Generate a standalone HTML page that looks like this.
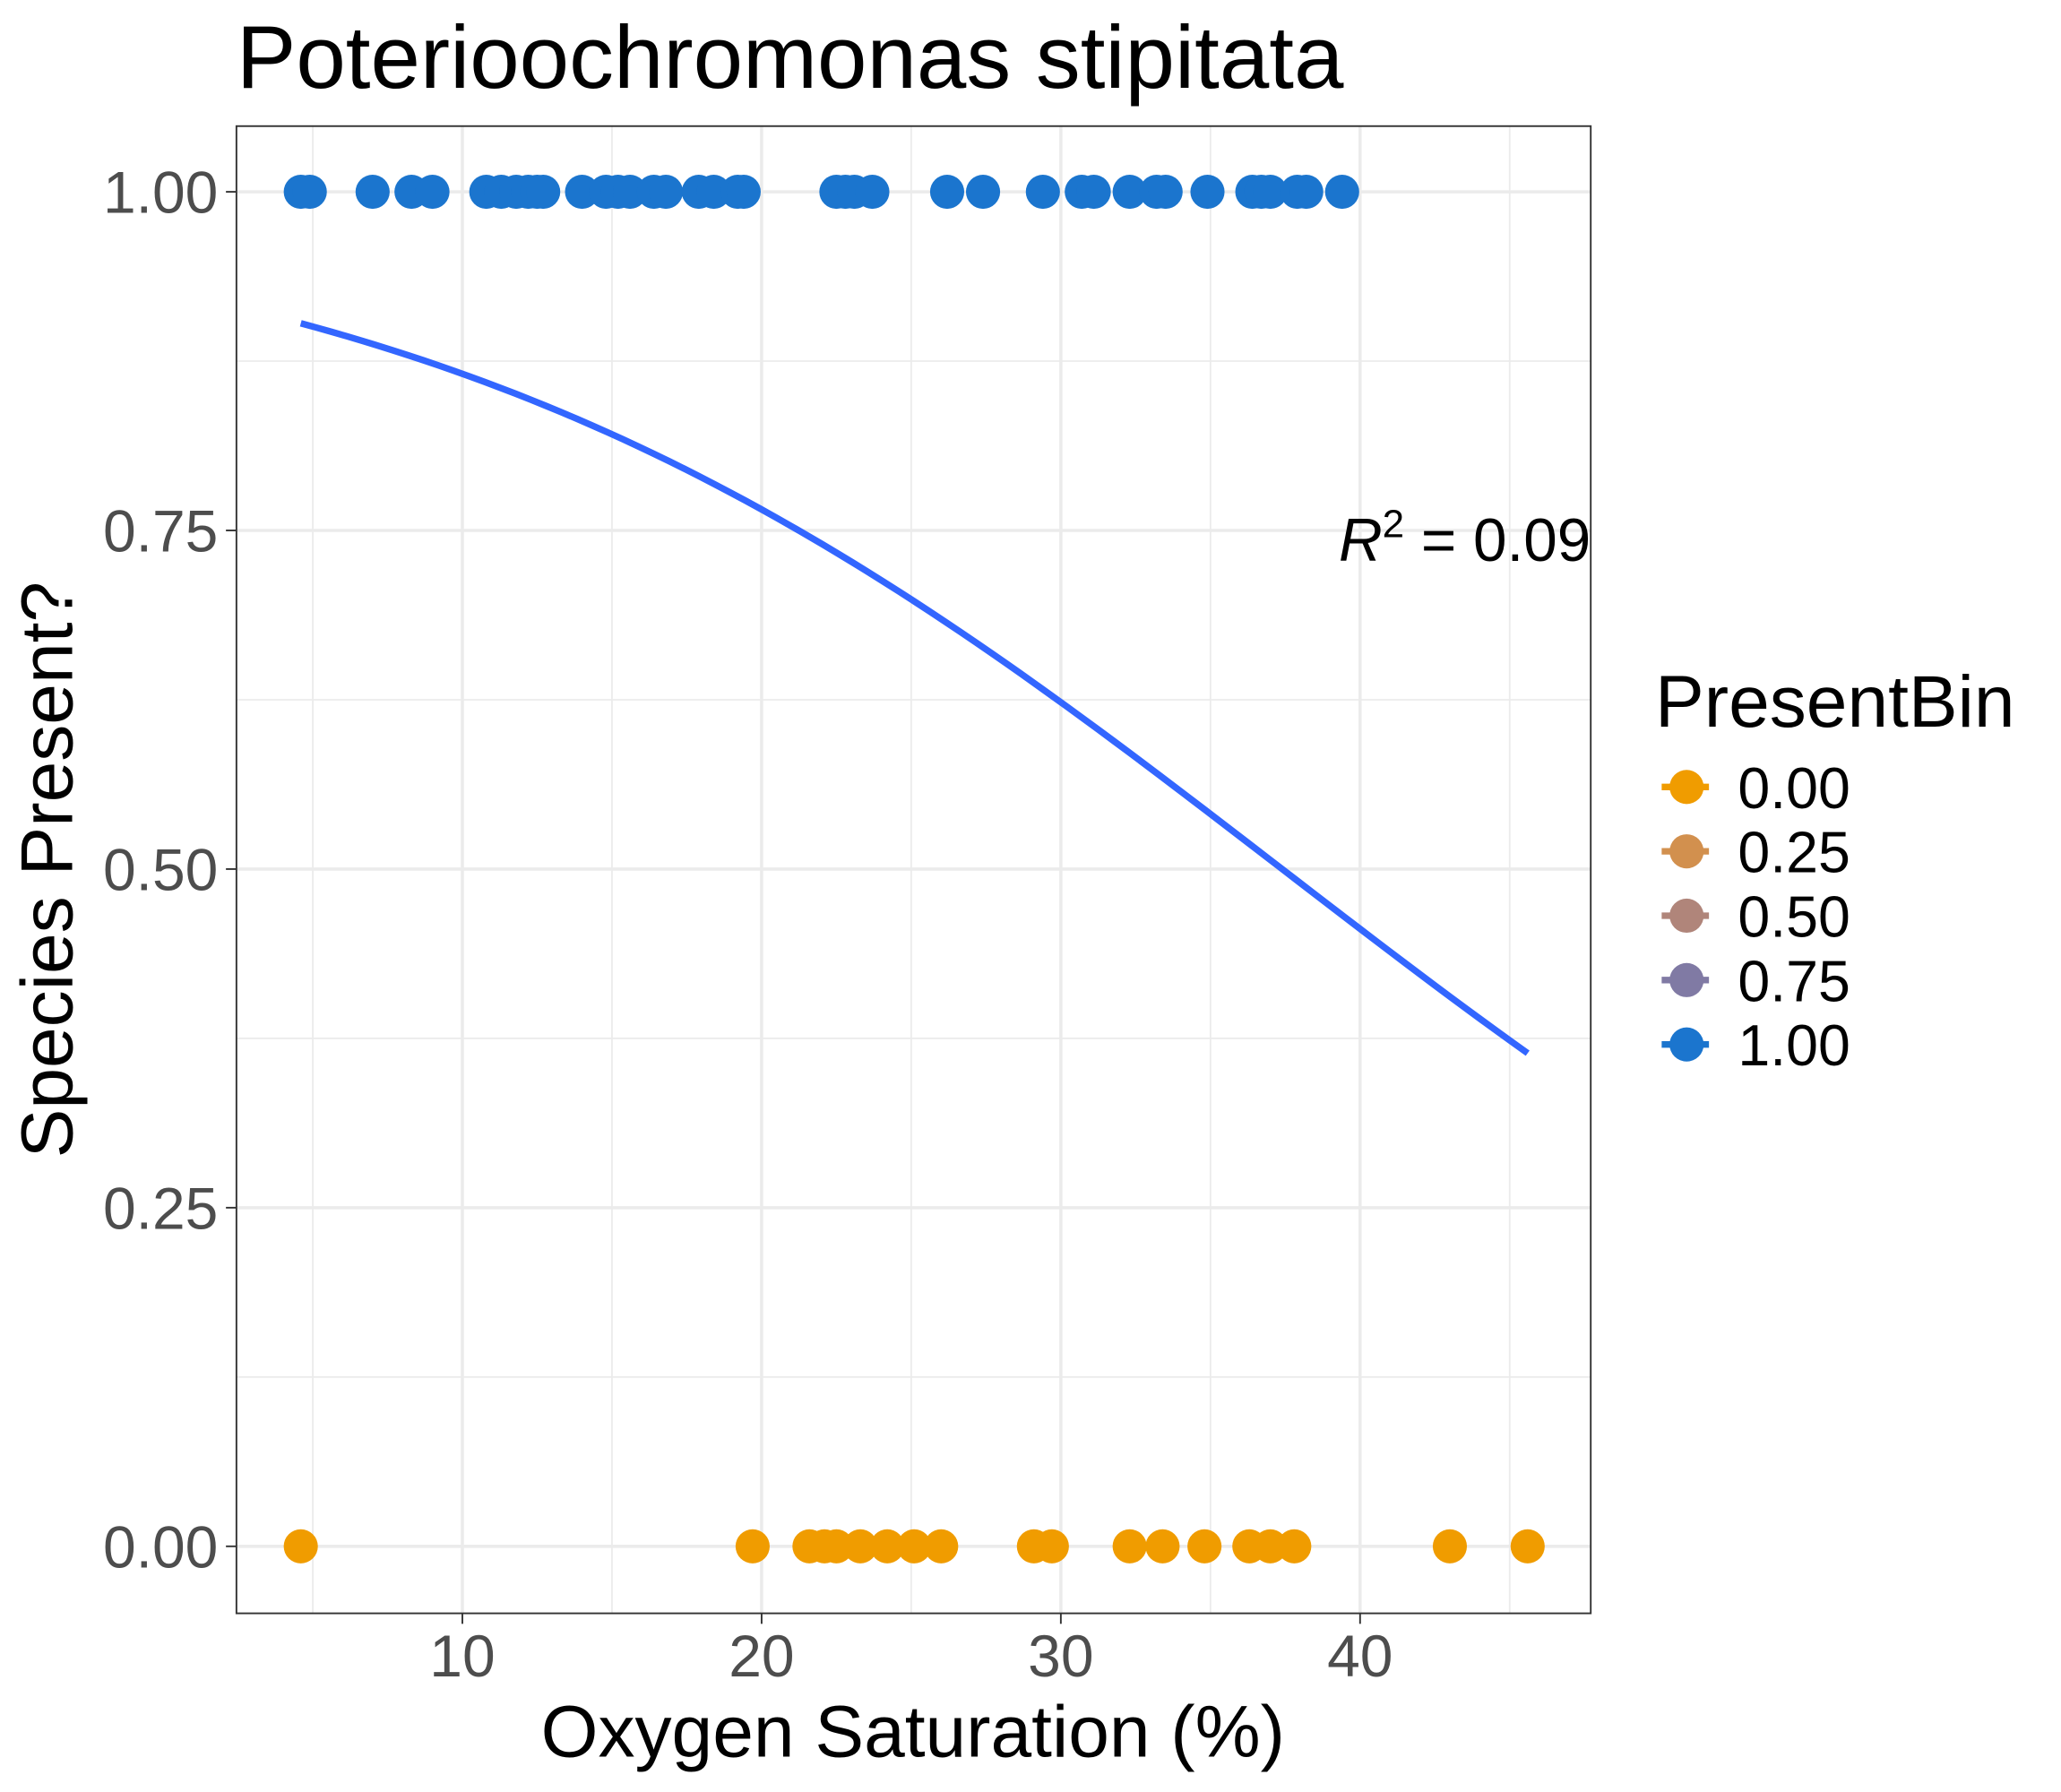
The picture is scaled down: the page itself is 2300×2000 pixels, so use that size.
<!DOCTYPE html>
<html><head><meta charset="utf-8"><style>
html,body{margin:0;padding:0;background:#fff;}
svg{display:block;font-family:"Liberation Sans",sans-serif;}
</style></head><body>
<svg id="chart" width="2300" height="2000" viewBox="0 0 1569 1364" preserveAspectRatio="none" xmlns="http://www.w3.org/2000/svg">
<rect x="0" y="0" width="1569" height="1364" fill="#fff"/>
<g id="grid"></g>
<g id="curve"></g>
<g id="points"></g>
<rect x="180" y="96" width="1031" height="1132" fill="none" stroke="#333" stroke-width="1.3"/>
<g id="axes"></g>
<text x="180" y="67" font-size="68" fill="#000">Poterioochromonas stipitata</text>
<text x="695" y="1337" font-size="56" text-anchor="middle" fill="#000">Oxygen Saturation (%)</text>
<text transform="translate(55,662) rotate(-90)" font-size="56" text-anchor="middle" fill="#000">Species Present?</text>
<text x="1211" y="427" font-size="46" text-anchor="end" fill="#000"><tspan font-style="italic">R</tspan><tspan dy="-18" font-size="30">2</tspan><tspan dy="18"> = 0.09</tspan></text>
<g id="legend">
<text x="1260" y="553" font-size="56" fill="#000">PresentBin</text>
</g>
</svg>
<script>
const blueX=[4.6,4.9,7.0,8.3,9.0,10.8,11.3,11.8,12.2,12.5,12.7,14.0,14.8,15.2,15.6,16.4,16.8,17.9,18.4,19.2,19.4,22.5,22.8,23.1,23.7,26.2,27.4,29.4,30.7,31.1,32.3,33.2,33.5,34.9,36.4,36.7,37.0,37.9,38.2,39.4];
const orangeX=[4.6,19.7,21.6,22.1,22.5,23.3,24.2,25.1,26.0,29.1,29.7,32.3,33.4,34.8,36.3,37.0,37.8,43.0,45.6];
const fitCoef=[2.543,-0.068];
const fitRange=[4.6,45.6];
const xTicks=[10,20,30,40];
const yTicks=[0,0.25,0.5,0.75,1];
const yTickLabels=["0.00","0.25","0.50","0.75","1.00"];
const legendLabels=["0.00","0.25","0.50","0.75","1.00"];
const legendColors=["#F09C00","#D2904E","#B0857A","#807AA4","#1B75CE"];

const NS="http://www.w3.org/2000/svg";
const X0=180,X1=1211,Y0=96,Y1=1228;
function sx(v){return 352+(v-10)*22.78;}
function sy(v){return 1177-v*1031;}
function mk(tag,attrs,parent){const e=document.createElementNS(NS,tag);for(const k in attrs)e.setAttribute(k,attrs[k]);parent.appendChild(e);return e;}

const grid=document.getElementById('grid');
for(let v=5;v<=45;v+=10){const l=mk('line',{x1:sx(v),x2:sx(v),y1:Y0,y2:Y1,stroke:'#EBEBEB','stroke-width':1.2},grid);

}
for(let v=0.125;v<1.1;v+=0.25){const l=mk('line',{x1:X0,x2:X1,y1:sy(v),y2:sy(v),stroke:'#EBEBEB','stroke-width':1.2},grid);

}
xTicks.forEach(v=>{const l=mk('line',{x1:sx(v),x2:sx(v),y1:Y0,y2:Y1,stroke:'#EBEBEB','stroke-width':2.4},grid);

});
yTicks.forEach(v=>{const l=mk('line',{x1:X0,x2:X1,y1:sy(v),y2:sy(v),stroke:'#EBEBEB','stroke-width':2.4},grid);

});

const axes=document.getElementById('axes');
xTicks.forEach(v=>{const t=mk('line',{x1:sx(v),x2:sx(v),y1:Y1,y2:Y1+8,stroke:'#333','stroke-width':1.3},axes);


const tx=mk('text',{x:sx(v),y:1276,'font-size':45,'text-anchor':'middle',fill:'#4D4D4D'},axes);tx.textContent=String(v);

});
yTicks.forEach((v,i)=>{const t=mk('line',{x1:X0-8,x2:X0,y1:sy(v),y2:sy(v),stroke:'#333','stroke-width':1.3},axes);


const tx=mk('text',{x:166,y:sy(v)+16,'font-size':45,'text-anchor':'end',fill:'#4D4D4D'},axes);tx.textContent=yTickLabels[i];

});

const pts=document.getElementById('points');
orangeX.forEach(v=>{const c=mk('circle',{cx:sx(v),cy:sy(0),r:13,fill:'#F09C00'},pts);

});
blueX.forEach(v=>{const c=mk('circle',{cx:sx(v),cy:sy(1),r:13,fill:'#1B75CE'},pts);

});

let d='';
for(let i=0;i<=80;i++){const x=fitRange[0]+(fitRange[1]-fitRange[0])*i/80;const p=1/(1+Math.exp(-(fitCoef[0]+fitCoef[1]*x)));d+=(i?'L':'M')+sx(x).toFixed(2)+' '+sy(p).toFixed(2);}
const path=mk('path',{d:d,fill:'none',stroke:'#3366FF','stroke-width':5},document.getElementById('curve'));



const lg=document.getElementById('legend');
legendLabels.forEach((lab,i)=>{const y=599+i*49;
const g=mk('g',{},lg);


mk('line',{x1:1265,x2:1301,y1:y,y2:y,stroke:legendColors[i],'stroke-width':5},g);
mk('circle',{cx:1284,cy:y,r:13,fill:legendColors[i]},g);
const t=mk('text',{x:1323,y:y+16,'font-size':44,fill:'#000'},g);t.textContent=lab;});
</script>
</body></html>
